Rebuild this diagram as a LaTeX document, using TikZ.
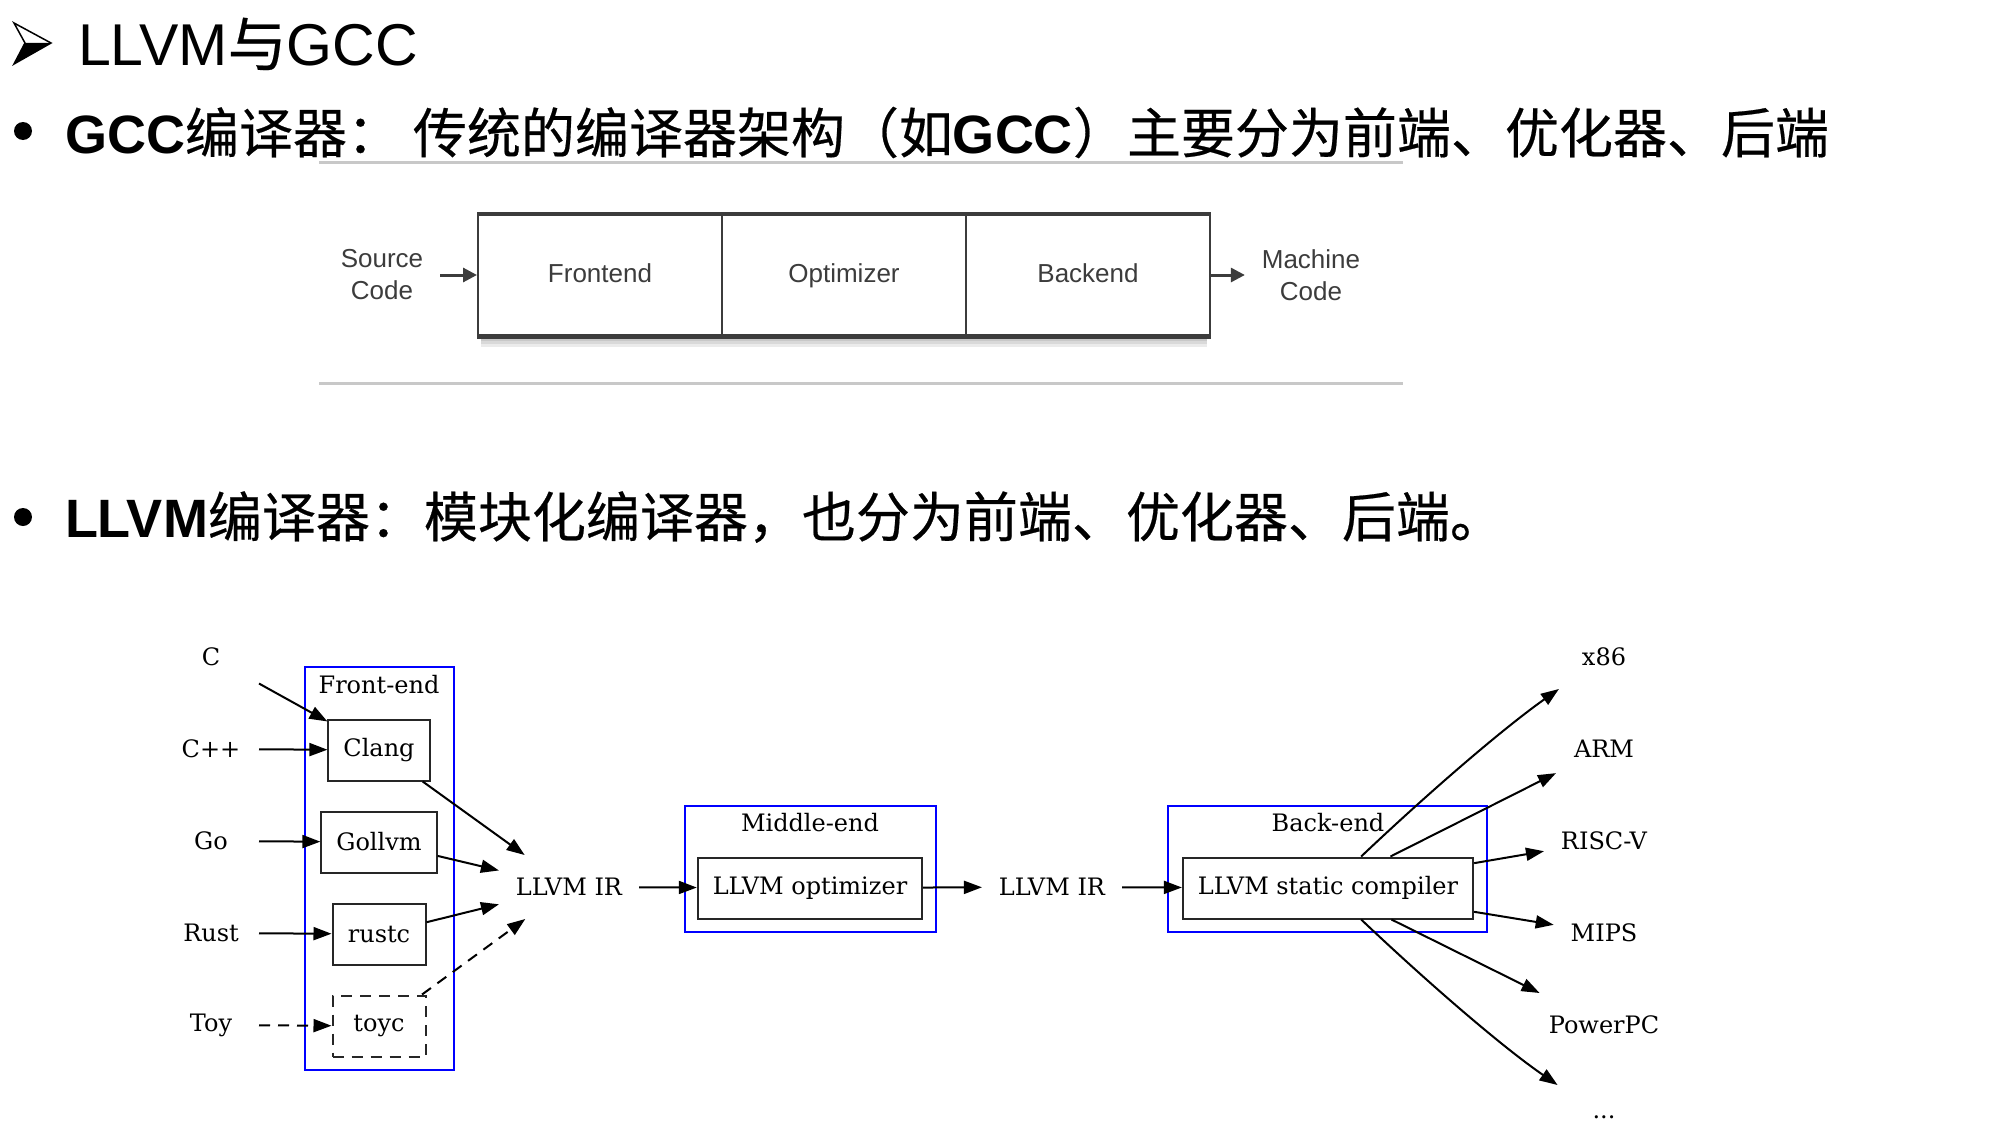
\documentclass[tikz,border=0pt]{standalone}
\usepackage{fontspec}
\usetikzlibrary{arrows.meta}
\setmainfont{DejaVu Serif}
\newfontfamily\arial{Liberation Sans}
\newfontfamily\cjk{Noto Sans CJK SC}[FakeBold=0.4]
\definecolor{gccgray}{HTML}{3C3C3C}
\definecolor{sepgray}{HTML}{C8C8C8}
\definecolor{clblue}{HTML}{0000FF}

\tikzset{
  lang/.style={minimum width=94pt,minimum height=62pt,inner xsep=16pt},
  stage/.style={draw=black!85,line width=2pt,minimum width=93pt,minimum height=61pt,inner xsep=15pt},
  cluster/.style={draw=clblue,line width=1.8pt},
  gccbox/.style={draw=gccgray,line width=2pt,minimum width=244pt,minimum height=121pt,text height=19pt,text depth=5pt,text=gccgray,font=\arial\fontsize{26}{32}\selectfont},
  gcctext/.style={align=center,inner xsep=16pt,text=gccgray,font=\arial\fontsize{26}{32}\selectfont},
  gccarrow/.style={draw=gccgray,line width=3pt,-{Triangle[length=14pt,width=14pt]}},
  dashline/.style={dash pattern=on 11pt off 8pt},
}

\begin{document}
\begin{tikzpicture}[x=1pt,y=-1pt,line width=2pt,>={Triangle[length=18pt,width=13pt]},font=\fontsize{24}{29}\selectfont]
\useasboundingbox (0,0) rectangle (2000,1140);
% heading
\draw[line width=1.5pt,line join=miter] (14,23) -- (51,43) -- (14,64) -- (25,43) -- cycle;
\fill (25,43) -- (51,43) -- (14,64) -- cycle;
\node[anchor=base west,inner sep=0,font=\arial\fontsize{59}{70}\selectfont] (title) at (77,66) {LLVM{\cjk 与}GCC};
\node[circle,fill,inner sep=0,minimum size=18pt] (dot1) at (23,131) {};
\node[anchor=base west,inner sep=0,font=\arial\fontsize{54}{64}\selectfont] (gccline) at (64,153)
  {\textbf{GCC}{\cjk 编译器：}\hspace{12pt}{\cjk 传统的编译器架构（如}\textbf{GCC}{\cjk ）主要分为前端、优化器、后端}};
\node[circle,fill,inner sep=0,minimum size=18pt] (dot2) at (23,517) {};
\node[anchor=base west,inner sep=0,font=\arial\fontsize{54}{64}\selectfont] (llvmline) at (64,537)
  {\textbf{LLVM}{\cjk 编译器：模块化编译器，也分为前端、优化器、后端。}};
\draw[sepgray,line width=3pt] (319,162) -- (1403,162);
\draw[sepgray,line width=3pt] (319,383) -- (1403,383);

% gcc pipeline
\foreach \s in {3,6,9,12}
  \fill[black,opacity=0.08] (481,225) rectangle (1207,335+\s);
\node[gccbox,fill=white] (fe) at (600,275) {Frontend};
\node[gccbox,fill=white] (opt) at (844,275) {Optimizer};
\node[gccbox,fill=white] (be) at (1088,275) {Backend};
\draw[gccgray,line width=3.5pt] (fe.north west) -- (be.north east);
\draw[gccgray,line width=5pt] (fe.south west) -- (be.south east);
\node[gcctext] (src) at (382,275) {Source\\Code};
\node[gcctext] (mc) at (1311,275) {Machine\\Code};
\draw[gccarrow] (src) -- (fe);
\draw[gccarrow] (be) -- (mc);

% front-end
\draw[cluster] (305,667) rectangle (454,1070);
\node (felabel) at (379,685) {Front-end};
\node[lang] (c) at (211,657) {C};
\node[lang] (cpp) at (211,749) {C++};
\node[lang] (go) at (211,841) {Go};
\node[lang] (rust) at (211,933) {Rust};
\node[lang] (toy) at (211,1025) {Toy};
\node[stage] (clang) at (379,750) {Clang};
\node[stage] (gollvm) at (379,842) {Gollvm};
\node[stage] (rustc) at (379,934) {rustc};
\node[stage,dashline] (toyc) at (379,1026) {toyc};
\node[lang] (ir1) at (569,887) {LLVM IR};
\draw[->] (c) -- (clang);
\draw[->] (cpp) -- (clang);
\draw[->] (go) -- (gollvm);
\draw[->] (rust) -- (rustc);
\draw[->,dashline] (toy) -- (toyc);
\draw[->] (clang) -- (ir1);
\draw[->] (gollvm) -- (ir1);
\draw[->] (rustc) -- (ir1);
\draw[->,dashline] (toyc) -- (ir1);

% middle-end
\draw[cluster] (685,806) rectangle (936,932);
\node (melabel) at (810,823) {Middle-end};
\node[stage] (llopt) at (810,888) {LLVM optimizer};
\node[lang] (ir2) at (1052,887) {LLVM IR};
\draw[->] (ir1) -- (llopt);
\draw[->] (llopt) -- (ir2);

% back-end
\draw[cluster] (1168,806) rectangle (1487,932);
\node (belabel) at (1328,823) {Back-end};
\node[stage] (llsc) at (1328,888) {LLVM static compiler};
\draw[->] (ir2) -- (llsc);
\node[lang] (x86) at (1604,657) {x86};
\node[lang] (arm) at (1604,749) {ARM};
\node[lang] (riscv) at (1604,841) {RISC-V};
\node[lang] (mips) at (1604,933) {MIPS};
\node[lang] (ppc) at (1604,1025) {PowerPC};
\node[lang] (more) at (1604,1117) {...};
\draw[->] (llsc) .. controls (1426,795) and (1501,730) .. (x86);
\draw[->] (llsc) -- (arm);
\draw[->] (llsc) -- (riscv);
\draw[->] (llsc) -- (mips);
\draw[->] (llsc) -- (ppc);
\draw[->] (llsc) .. controls (1426,981) and (1501,1046) .. (more);
\end{tikzpicture}
\end{document}
